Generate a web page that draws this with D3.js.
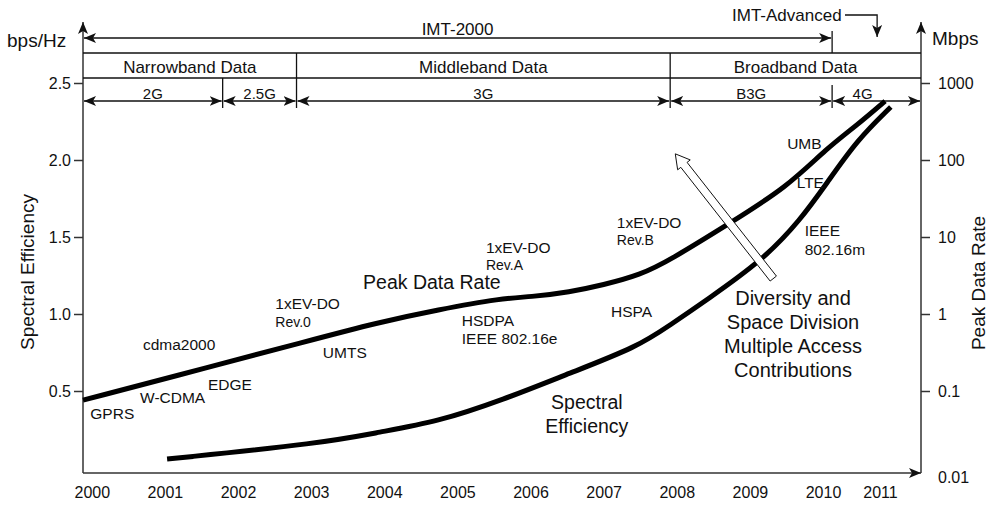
<!DOCTYPE html>
<html>
<head>
<meta charset="utf-8">
<script src="https://cdn.jsdelivr.net/npm/d3@7"></script>
<style>
  body { margin: 0; background: #fff; }
  svg { display: block; font-family: "Liberation Sans", Arial, sans-serif; }
</style>
</head>
<body>
<div id="chart"></div>
<script>
// values
const years = [2000, 2001, 2002, 2003, 2004, 2005, 2006, 2007, 2008, 2009, 2010, 2011];
const seTicks = [0.5, 1.0, 1.5, 2.0, 2.5];
const rateTicks = [0.01, 0.1, 1, 10, 100, 1000];

// peak data rate curve (Mbps, right log axis)
const peakYears = [1999.88, 2001.66, 2002.85, 2003.94, 2004.72, 2005.62, 2005.99, 2006.54,
                   2006.99, 2007.50, 2007.91, 2008.73, 2009.51, 2010.07, 2010.60, 2011.09];
const peakMbps  = [0.076, 0.211, 0.42, 0.787, 1.13, 1.61, 1.66, 1.93,
                   2.38, 3.21, 5.02, 15.2, 44.6, 143, 285, 583];

// spectral efficiency curve (bps/Hz, left axis)
const seYears  = [2001.03, 2003.16, 2003.94, 2004.72, 2005.62, 2006.54, 2007.46,
                  2007.91, 2008.41, 2009.18, 2009.69, 2010.07, 2010.60, 2011.19];
const seValues = [0.058, 0.162, 0.234, 0.299, 0.442, 0.617, 0.786,
                  0.929, 1.091, 1.351, 1.610, 1.851, 2.130, 2.344];

// header bands (edges in years)
const bandNames = ["Narrowband Data", "Middleband Data", "Broadband Data"];
const bandEdges = [1999.88, 2002.80, 2007.91, 2011.72];
const genNames  = ["2G", "2.5G", "3G", "B3G", "4G"];
const genEdges  = [1999.88, 2001.79, 2002.80, 2007.91, 2010.16, 2011.72];
const imtEnd = 2010.16;
const imtAdvYear = 2010.95;

const width = 990, height = 506;
const axL = 83, axR = 921, axB = 473, axT = 22;
const hdr = { imt: 38, line0: 53, line1: 78, gen: 101, genBottom: 108 };
const ink = "#111";

const x = d3.scaleLinear().domain([1999.88, 2010, 2011.72]).range([axL, 823, axR]);
const yL = d3.scaleLinear().domain([0.5, 2.5]).range([391, 83]);
const yR = d3.scaleLog().domain([0.1, 1000]).range([391, 83]);

const svg = d3.select("#chart").append("svg")
    .attr("width", width)
    .attr("height", height);

const defs = svg.append("defs");
defs.append("marker")
    .attr("id", "ah")
    .attr("viewBox", "0 0 12 10")
    .attr("refX", 12).attr("refY", 5)
    .attr("markerWidth", 12).attr("markerHeight", 10)
    .attr("markerUnits", "userSpaceOnUse")
    .attr("orient", "auto-start-reverse")
  .append("path")
    .attr("d", "M0,0 L12,5 L0,10 L3,5 Z")
    .attr("fill", ink);

// axes lines with arrows
const axisG = svg.append("g").attr("stroke", "#333").attr("stroke-width", 1.5).attr("fill", "none");
axisG.append("line").attr("x1", axL).attr("y1", axB).attr("x2", axL).attr("y2", axT).attr("marker-end", "url(#ah)");
axisG.append("line").attr("x1", axR).attr("y1", axB).attr("x2", axR).attr("y2", axT).attr("marker-end", "url(#ah)");
axisG.append("line").attr("x1", axL).attr("y1", axB).attr("x2", axR).attr("y2", axB).attr("marker-end", "url(#ah)");

// left axis
const gl = svg.append("g").attr("transform", `translate(${axL},0)`)
    .call(d3.axisLeft(yL).tickValues(seTicks).tickFormat(d3.format(".1f")).tickSize(9).tickPadding(3));
gl.select(".domain").remove();

// right axis
const gr = svg.append("g").attr("transform", `translate(${axR},0)`)
    .call(d3.axisRight(yR).tickValues(rateTicks).tickFormat(d => String(d)).tickSize(9).tickPadding(8));
gr.select(".domain").remove();
gr.selectAll(".tick").filter(d => d === 0.01).select("line").remove();
gr.selectAll(".tick").filter(d => d === 0.01).select("text").attr("dy", "0.9em");

// bottom axis
const gb = svg.append("g").attr("transform", `translate(0,${axB})`)
    .call(d3.axisBottom(x).tickValues(years).tickFormat(d3.format("d")).tickSize(0).tickPadding(14));
gb.select(".domain").remove();

svg.selectAll(".tick line").attr("stroke", "#333").attr("stroke-width", 1.5);
svg.selectAll(".tick text").attr("fill", ink).style("font-size", "16px")
    .style("font-family", '"Liberation Sans", Arial, sans-serif');

// axis titles
svg.append("text").attr("x", 7).attr("y", 40).attr("dominant-baseline", "central")
    .attr("fill", ink).style("font-size", "19px").text("bps/Hz");
svg.append("text").attr("x", 932).attr("y", 38).attr("dominant-baseline", "central")
    .attr("fill", ink).style("font-size", "19px").text("Mbps");
svg.append("text").attr("transform", "translate(27,272) rotate(-90)")
    .attr("text-anchor", "middle").attr("dominant-baseline", "central")
    .attr("fill", ink).style("font-size", "19px").text("Spectral Efficiency");
svg.append("text").attr("transform", "translate(978,283) rotate(-90)")
    .attr("text-anchor", "middle").attr("dominant-baseline", "central")
    .attr("fill", ink).style("font-size", "19px").text("Peak Data Rate");

// header
const hg = svg.append("g").attr("stroke", ink).attr("stroke-width", 1.3);
hg.append("line").attr("x1", axL).attr("x2", axR).attr("y1", hdr.line0).attr("y2", hdr.line0);
hg.append("line").attr("x1", axL).attr("x2", axR).attr("y1", hdr.line1).attr("y2", hdr.line1);

// IMT-2000 arrow
hg.append("line").attr("x1", axL + 1).attr("x2", x(imtEnd) - 1).attr("y1", hdr.imt).attr("y2", hdr.imt)
    .attr("marker-start", "url(#ah)").attr("marker-end", "url(#ah)");
hg.append("line").attr("x1", x(imtEnd)).attr("x2", x(imtEnd)).attr("y1", 31).attr("y2", hdr.line0);
svg.append("text").attr("x", (x(bandEdges[0]) + x(imtEnd)) / 2).attr("y", 29)
    .attr("text-anchor", "middle").attr("dominant-baseline", "central")
    .attr("fill", ink).style("font-size", "17px").text("IMT-2000");

// IMT-Advanced callout
svg.append("text").attr("x", 732).attr("y", 15).attr("dominant-baseline", "central")
    .attr("fill", ink).style("font-size", "17px").text("IMT-Advanced");
hg.append("polyline").attr("fill", "none")
    .attr("points", `845,15 ${x(imtAdvYear)},15 ${x(imtAdvYear)},37`)
    .attr("marker-end", "url(#ah)");

// band dividers & labels
bandEdges.slice(1, -1).forEach(e => {
  hg.append("line").attr("x1", x(e)).attr("x2", x(e)).attr("y1", hdr.line0).attr("y2", hdr.genBottom);
});
bandNames.forEach((n, i) => {
  svg.append("text").attr("x", (x(bandEdges[i]) + x(bandEdges[i + 1])) / 2).attr("y", 67)
      .attr("text-anchor", "middle").attr("dominant-baseline", "central")
      .attr("fill", ink).style("font-size", "17px").text(n);
});

// generation arrows
genEdges.slice(1, -1).forEach(e => {
  if (bandEdges.includes(e)) return;
  hg.append("line").attr("x1", x(e)).attr("x2", x(e))
      .attr("y1", e === imtEnd ? 85 : hdr.line1).attr("y2", hdr.genBottom);
});
genNames.forEach((n, i) => {
  const a = x(genEdges[i]) + 1, b = x(genEdges[i + 1]) - 1;
  hg.append("line").attr("x1", a).attr("x2", b).attr("y1", hdr.gen).attr("y2", hdr.gen)
      .attr("marker-start", "url(#ah)").attr("marker-end", "url(#ah)");
  svg.append("text").attr("x", (a + b) / 2 + (n === "4G" ? -14 : 0)).attr("y", 93)
      .attr("text-anchor", "middle").attr("dominant-baseline", "central")
      .attr("fill", ink).style("font-size", "15px").text(n);
});

// curves
const peakLine = d3.line()
    .x((d, i) => x(peakYears[i]))
    .y(d => yR(d))
    .curve(d3.curveBasis);
const seLine = d3.line()
    .x((d, i) => x(seYears[i]))
    .y(d => yL(d))
    .curve(d3.curveBasis);

svg.append("path").datum(peakMbps)
    .attr("fill", "none").attr("stroke", "#000").attr("stroke-width", 5)
    .attr("d", peakLine);
svg.append("path").datum(seValues)
    .attr("fill", "none").attr("stroke", "#000").attr("stroke-width", 5)
    .attr("d", seLine);

// hollow arrow (diversity / SDMA contributions)
{
  const tx = x(2009.32), ty = yL(1.23), hx = x(2007.98), hy = yL(2.04);
  const len = Math.hypot(hx - tx, hy - ty);
  const ux = (hx - tx) / len, uy = (hy - ty) / len;
  const nx = -uy, ny = ux;
  const bx = hx - ux * 14, by = hy - uy * 14;
  const p = (px, py, s) => [px + nx * s, py + ny * s];
  const pts = [p(tx, ty, 4), p(bx, by, 4), p(bx, by, 8), [hx, hy], p(bx, by, -8), p(bx, by, -4), p(tx, ty, -4)];
  svg.append("polygon")
      .attr("points", pts.map(q => q.join(",")).join(" "))
      .attr("fill", "#fff").attr("stroke", ink).attr("stroke-width", 1);
}

// annotations: [text, font size] per line, anchored at (year, bps/Hz)
const notes = [
  { lines: [["GPRS", 15.5]], yr: 1999.98, v: 0.357 },
  { lines: [["W-CDMA", 15.5]], yr: 2000.66, v: 0.455 },
  { lines: [["EDGE", 15.5]], yr: 2001.59, v: 0.545 },
  { lines: [["cdma2000", 15.5]], yr: 2000.70, v: 0.799 },
  { lines: [["1xEV-DO", 15.5], ["Rev.0", 14]], yr: 2002.51, v: 1.071, lh: 19 },
  { lines: [["UMTS", 15.5]], yr: 2003.16, v: 0.747 },
  { lines: [["Peak Data Rate", 19.5]], yr: 2003.71, v: 1.208 },
  { lines: [["1xEV-DO", 15.5], ["Rev.A", 14]], yr: 2005.39, v: 1.435, lh: 18 },
  { lines: [["HSDPA", 15.5], ["IEEE 802.16e", 15.5]], yr: 2005.06, v: 0.961, lh: 18 },
  { lines: [["1xEV-DO", 15.5], ["Rev.B", 14]], yr: 2007.18, v: 1.597, lh: 18 },
  { lines: [["HSPA", 15.5]], yr: 2007.10, v: 1.019 },
  { lines: [["Spectral", 19.5], ["Efficiency", 19.5]], yr: 2006.77, v: 0.429, lh: 24, mid: true },
  { lines: [["UMB", 15.5]], yr: 2009.51, v: 2.110 },
  { lines: [["LTE", 15.5]], yr: 2009.64, v: 1.851 },
  { lines: [["IEEE", 15.5], ["802.16m", 15.5]], yr: 2009.75, v: 1.539, lh: 19 },
  { lines: [["Diversity and", 20], ["Space Division", 20], ["Multiple Access", 20], ["Contributions", 20]],
    yr: 2009.59, v: 1.104, lh: 24, mid: true }
];
notes.forEach(n => {
  n.lines.forEach(([t, fs], i) => {
    svg.append("text")
        .attr("x", x(n.yr))
        .attr("y", yL(n.v) + i * (n.lh || 0))
        .attr("text-anchor", n.mid ? "middle" : "start")
        .attr("dominant-baseline", "central")
        .attr("fill", ink)
        .style("font-size", fs + "px")
        .text(t);
  });
});
</script>
</body>
</html>
